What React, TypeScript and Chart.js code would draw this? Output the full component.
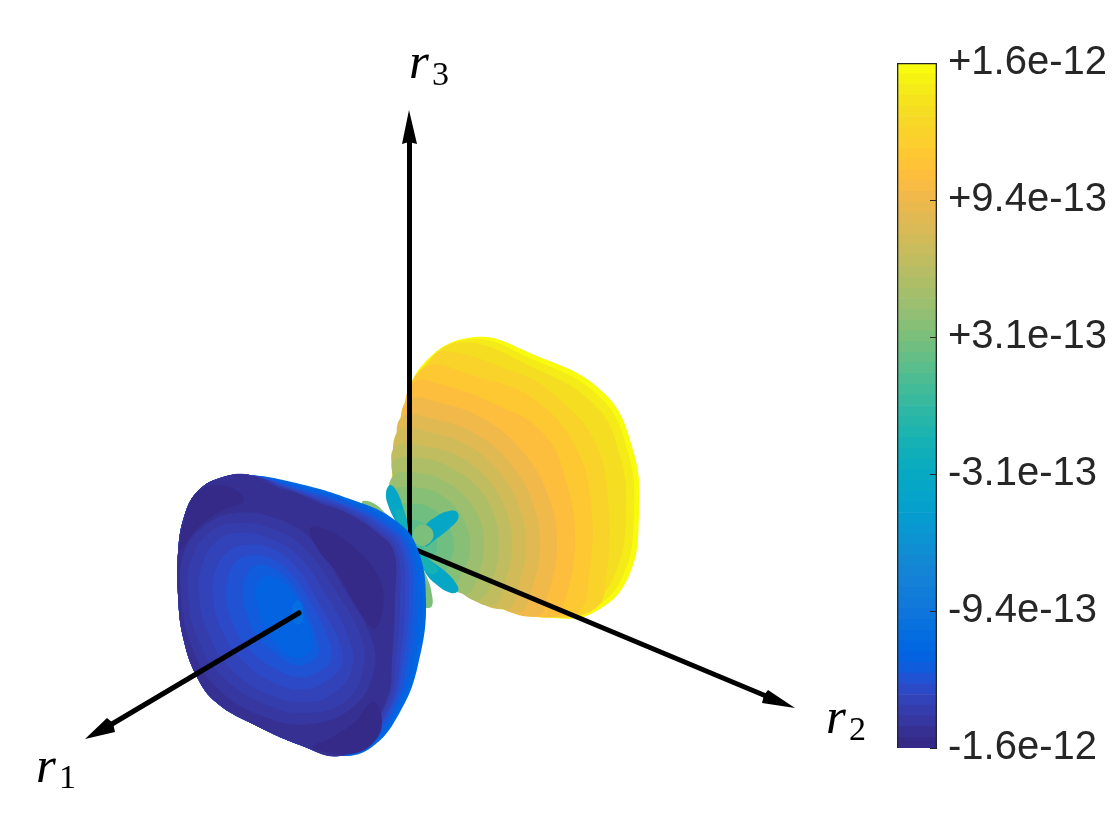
import React, { useEffect, useRef } from "react";
import { Chart, registerables } from "chart.js";

Chart.register(...registerables);

type P = [number, number];

// MATLAB parula, read against the colour bar, bottom band first
const parula: [number, number, number][] = [
  [0.2081,0.1663,0.5292],[0.2116,0.1898,0.5777],[0.2123,0.2138,0.627],[0.2081,0.2386,0.6771],
  [0.1959,0.2645,0.7279],[0.1707,0.2919,0.7792],[0.1253,0.3242,0.8303],[0.0591,0.3598,0.8683],
  [0.0117,0.3875,0.882],[0.006,0.4086,0.8828],[0.0165,0.4266,0.8786],[0.0329,0.443,0.872],
  [0.0498,0.4586,0.8641],[0.0629,0.4737,0.8554],[0.0723,0.4887,0.8467],[0.0779,0.504,0.8384],
  [0.0793,0.52,0.8312],[0.0749,0.5375,0.8263],[0.0641,0.557,0.824],[0.0488,0.5772,0.8228],
  [0.0343,0.5966,0.8199],[0.0265,0.6137,0.8135],[0.0239,0.6287,0.8038],[0.0231,0.6418,0.7913],
  [0.0228,0.6535,0.7768],[0.0267,0.6642,0.7607],[0.0384,0.6743,0.7436],[0.059,0.6838,0.7254],
  [0.0843,0.6928,0.7062],[0.1133,0.7015,0.6859],[0.1453,0.7098,0.6646],[0.1801,0.7177,0.6424],
  [0.2178,0.725,0.6193],[0.2586,0.7317,0.5954],[0.3022,0.7376,0.5712],[0.3482,0.7424,0.5473],
  [0.3953,0.7459,0.5244],[0.442,0.7481,0.5033],[0.4871,0.7491,0.484],[0.53,0.7491,0.4661],
  [0.5709,0.7485,0.4494],[0.6099,0.7473,0.4337],[0.6473,0.7456,0.4188],[0.6834,0.7435,0.4044],
  [0.7184,0.7411,0.3905],[0.7525,0.7384,0.3768],[0.7858,0.7356,0.3633],[0.8185,0.7327,0.3498],
  [0.8507,0.7299,0.336],[0.8824,0.7274,0.3217],[0.9139,0.7258,0.3063],[0.945,0.7261,0.2886],
  [0.9739,0.7314,0.2666],[0.9938,0.7455,0.2403],[0.999,0.7653,0.2164],[0.9955,0.7861,0.1967],
  [0.988,0.8066,0.1794],[0.9789,0.8271,0.1633],[0.9697,0.8481,0.1475],[0.9626,0.8705,0.1309],
  [0.9589,0.8949,0.1132],[0.9598,0.9218,0.0948],[0.9661,0.9514,0.0755],[0.9763,0.9831,0.0538],
];
const rgb = (i: number) => {
  const c = parula[i];
  return `rgb(${Math.round(c[0] * 255)},${Math.round(c[1] * 255)},${Math.round(c[2] * 255)})`;
};

// Colour bar
const cbTicks = [-1.57e-12, -9.42e-13, -3.14e-13, 3.14e-13, 9.42e-13, 1.57e-12];
const cbLabels = ["-1.6e-12", "-9.4e-13", "-3.1e-13", "+3.1e-13", "+9.4e-13", "+1.6e-12"];

// Yellow lobe: [parula index, contour], outermost first
const yellowContours: [number, P[]][] = [
  [63, [[475,337],[530,353],[603,392],[633,450],[639,515],[628,578],[593,613],[555,618],[497,607],[423,563],[392,510],[392,475],[402,413],[425,362]]],
  [61, [[472,339],[530,358],[600,397],[628,452],[634,515],[623,576],[590,611],[555,618],[497,606],[424,562],[393,510],[393,475],[403,413],[426,363]]],
  [59, [[463,342],[530,366],[595,405],[620,456],[626,515],[616,572],[587,610],[555,617],[497,606],[424,562],[393,510],[393,475],[403,413],[426,364]]],
  [57, [[444,351],[515,372],[546,388],[594,440],[609,510],[606,579],[596,608],[555,617],[497,606],[424,562],[393,510],[393,475],[403,413],[427,366]]],
  [55, [[425,367],[474,376],[534,399],[577,450],[592,513],[589,576],[580,611],[555,617],[497,606],[424,562],[393,510],[393,475],[403,413]]],
  [53, [[414,382],[440,384],[495,404],[544,434],[568,488],[575,545],[565,601],[555,617],[497,606],[424,562],[393,510],[393,475],[403,413]]],
  [51, [[408,400],[437,402],[484,419],[523,452],[548,495],[557,545],[548,595],[538,616],[497,606],[424,562],[393,510],[393,475],[399,430]]],
  [49, [[402,417],[434,419],[476,434],[510,463],[532,501],[540,545],[532,589],[521,612],[497,606],[424,562],[393,510],[393,475],[396,447]]],
  [47, [[399,430],[432,433],[469,446],[499,472],[519,506],[526,545],[519,584],[507,609],[460,592],[424,562],[393,510],[393,475]]],
  [45, [[395,447],[429,447],[462,458],[489,481],[506,511],[512,545],[506,579],[494,605],[460,592],[424,562],[393,510],[393,480]]],
  [43, [[394,460],[427,459],[455,470],[479,489],[494,515],[499,545],[494,575],[480,600],[460,592],[424,562],[393,510],[393,480]]],
  [41, [[393,476],[425,474],[448,483],[467,499],[480,520],[484,545],[480,570],[465,594],[424,562],[393,510]]],
  [39, [[393,490],[422,488],[441,495],[456,508],[466,525],[470,545],[466,565],[451,586],[424,562],[393,510]]],
  [37, [[393,507],[419,504],[433,509],[444,518],[451,531],[454,545],[451,559],[440,577],[424,562],[404,530]]],
  [35, [[398,520],[412,520],[424,523],[434,533],[437,545],[434,557],[426,566],[412,545]]],
  [33, [[405,535],[412,533],[421,536],[424,545],[421,553],[414,557],[408,552]]],
];

// Small petals between the lobes
const greenPetalUpper: P[] = [[362,502],[373,503],[387,515],[395,526],[385,530],[370,515]];
const greenPetalLower: P[] = [[422,570],[428,580],[432,595],[432,606],[427,608],[420,606],[415,590]];
const tealPetalUpper: P[] = [[390,485],[396,490],[403,507],[408,530],[405,535],[396,522],[388,505],[386,493]];
const tealPetalUpperBase: P[] = [[396,510],[403,510],[408,532],[404,534],[398,523]];
const tealPetalRight: P[] = [[425,527],[437,516],[449,511],[457,512],[458,519],[450,528],[436,539],[425,546]];
const tealPetalLower: P[] = [[415,548],[427,558],[447,573],[457,585],[458,591],[451,593],[437,585],[425,572]];
const tealPetalLowerBase: P[] = [[417,551],[429,560],[438,570],[431,574],[421,564]];
const centerPetal: P[] = [[420,525],[428,526],[433,532],[432,540],[424,546],[417,544],[413,537],[415,529]];

// Blue lobe: rim bands over its upper right side, all sharing the lower left edge
const blueEdge: P[] = [[340,756],[300,745],[255,725],[217,703],[197,677],[183,637],[178,595],[178,553],[184,517],[197,492],[220,478],[250,475]];
const blueRim0: P[] = [[300,484],[350,499],[392,518],[416,545],[426,600],[418,665],[400,712],[372,747]];
const blueRim1: P[] = [[300,486],[349,501],[390,520],[413,546],[422,600],[414,664],[398,710],[371,745]];
const blueRim2: P[] = [[299,487],[348,502],[388,522],[410,547],[417,600],[411,664],[396,708],[370,744]];
const blueRim3: P[] = [[299,489],[347,504],[387,525],[408,548],[413,600],[407,663],[395,706],[369,742]];
const blueRim4: P[] = [[298,490],[346,506],[385,527],[404,549],[409,600],[403,662],[393,704],[368,740]];
const blueRim5: P[] = [[298,492],[345,507],[383,529],[401,550],[405,600],[400,661],[392,702],[367,739]];
const blueRim6: P[] = [[297,493],[344,509],[381,532],[397,551],[400,600],[396,660],[390,699],[366,737]];
const blueRim7: P[] = [[297,495],[343,511],[379,534],[394,552],[395,600],[392,660],[388,697],[365,735]];
const bluePatchTop: P[] = [[180,550],[186,515],[197,492],[220,485],[240,493],[243,502],[227,508],[203,523],[188,540]];
const bluePatchRight: P[] = [[310,528],[327,530],[357,550],[380,580],[383,607],[375,628],[363,617],[337,573],[317,548]];
const bluePatchLow: P[] = [[373,702],[382,720],[374,742],[350,754],[313,747],[333,737],[357,720]];
const blueRingOuter: P[] = [[235,513],[275,518],[312,540],[345,590],[372,640],[373,675],[352,708],[310,724],[262,716],[215,686],[190,642],[181,596],[184,553],[204,526]];
const blueRings: [number, P[]][] = [
  [3, [[237,523],[270,528],[303,547],[337,593],[362,640],[363,670],[347,700],[310,713],[267,705],[223,677],[197,637],[188,593],[192,557],[210,532]]],
  [4, [[238,533],[268,538],[298,556],[328,598],[350,642],[352,668],[338,690],[310,702],[270,695],[232,670],[208,633],[199,593],[203,563],[217,541]]],
  [5, [[245,545],[270,548],[295,566],[320,605],[340,645],[341,665],[328,680],[305,689],[275,683],[242,660],[221,628],[213,595],[216,570],[228,552]]],
  [6, [[248,556],[270,558],[292,575],[315,610],[330,645],[330,662],[318,672],[300,677],[278,670],[250,650],[233,623],[226,595],[229,575],[236,562]]],
  [7, [[255,566],[272,568],[292,585],[308,615],[318,645],[318,655],[308,663],[295,665],[278,655],[258,637],[247,615],[243,595],[245,580]]],
  [8, [[262,578],[275,578],[292,592],[305,618],[312,640],[307,655],[292,657],[278,646],[265,628],[258,607],[256,590]]],
  [10, [[297,600],[301,603],[303,612],[303,620],[298,625],[293,620],[292,610],[294,603]]],
];

// Axes and their arrowheads
const axis1Line: P[] = [[299,613],[112,724]];
const axis2Line: P[] = [[414,549],[766,696]];
const axis3Line: P[] = [[409.5,535],[409.5,142]];
const arrow1: P[] = [[85,739],[107,718],[113,723],[115,732]];
const arrow2: P[] = [[795,708],[762,703],[764,695],[768,690]];
const arrow3: P[] = [[409,110],[402,144],[409,142],[417,144]];

const axisLabels: { name: string; sub: string; x: number; y: number; subX: number; subY: number }[] = [
  { name: "r", sub: "1", x: 36, y: 782, subX: 59, subY: 788 },
  { name: "r", sub: "2", x: 826, y: 733, subX: 849, subY: 740 },
  { name: "r", sub: "3", x: 409, y: 78, subX: 432, subY: 85 },
];

const toXY = (p: P[]) => p.map(([x, y]) => ({ x, y }));
// The loop overlaps itself by one segment at each end so its curve has no cusp where it closes
const looped = (p: P[]) => toXY([p[p.length - 1], ...p, p[0], p[1]]);

const labelPlugin = {
  id: "axisLabels",
  afterDatasetsDraw(chart: any) {
    const { ctx, scales } = chart;
    ctx.save();
    ctx.fillStyle = "#000";
    ctx.textAlign = "left";
    ctx.textBaseline = "alphabetic";
    for (const l of axisLabels) {
      ctx.font = 'italic 51px "Liberation Serif"';
      ctx.fillText(l.name, scales.x.getPixelForValue(l.x), scales.y.getPixelForValue(l.y));
      ctx.font = '34px "Liberation Serif"';
      ctx.fillText(l.sub, scales.x.getPixelForValue(l.subX), scales.y.getPixelForValue(l.subY));
    }
    ctx.restore();
  },
};

export default function App() {
  const surfaceRef = useRef<HTMLCanvasElement>(null);
  const barRef = useRef<HTMLCanvasElement>(null);

  useEffect(() => {
    const shape = (p: P[], idx: number, tension = 0.42) => ({
      data: looped(p),
      showLine: true,
      fill: "shape",
      backgroundColor: rgb(idx),
      borderWidth: 0,
      borderColor: "transparent",
      tension,
      pointRadius: 0,
    });
    const arrowHead = (p: P[]) => ({
      data: toXY(p),
      showLine: true,
      fill: "shape",
      backgroundColor: "#000",
      borderWidth: 0,
      tension: 0,
      pointRadius: 0,
    });
    const axisLine = (p: P[]) => ({
      data: toXY(p),
      showLine: true,
      fill: false,
      borderColor: "#000",
      borderWidth: 5,
      borderCapStyle: "round",
      tension: 0,
      pointRadius: 0,
    });

    const layers: any[] = [
      ...yellowContours.map(([i, p]) => shape(p, i)),
      axisLine(axis3Line),
      arrowHead(arrow3),
      shape(greenPetalUpper, 39),
      shape(greenPetalLower, 38),
      shape(tealPetalUpper, 24),
      shape(tealPetalUpperBase, 27),
      shape(tealPetalRight, 24),
      shape(tealPetalLower, 24),
      shape(tealPetalLowerBase, 28),
      shape(centerPetal, 38),
      axisLine(axis2Line),
      arrowHead(arrow2),
      shape([...blueRim0, ...blueEdge], 9),
      shape([...blueRim1, ...blueEdge], 8),
      shape([...blueRim2, ...blueEdge], 7),
      shape([...blueRim3, ...blueEdge], 6),
      shape([...blueRim4, ...blueEdge], 5),
      shape([...blueRim5, ...blueEdge], 4),
      shape([...blueRim6, ...blueEdge], 3),
      shape([...blueRim7, ...blueEdge], 1),
      shape(blueRingOuter, 2),
      shape(bluePatchLow, 0),
      shape(bluePatchTop, 0),
      shape(bluePatchRight, 0),
      ...blueRings.map(([i, p]) => shape(p, i, 0.45)),
      axisLine(axis1Line),
      arrowHead(arrow1),
    ];
    layers.forEach((d, i) => (d.order = layers.length - i));

    const surface = new Chart(surfaceRef.current!, {
      type: "scatter",
      data: { datasets: layers },
      options: {
        animation: false,
        responsive: false,
        layout: { padding: 0 },
        plugins: { legend: { display: false }, tooltip: { enabled: false } },
        scales: {
          x: { type: "linear", min: 0, max: 1120, display: false },
          y: { type: "linear", min: 0, max: 840, reverse: true, display: false },
        },
      },
      plugins: [labelPlugin],
    } as any);

    const lo = cbTicks[0];
    const hi = cbTicks[cbTicks.length - 1];
    const step = (hi - lo) / parula.length;
    const bands: any[] = parula.map((_, i) => ({
      data: [[lo + i * step, lo + (i + 1) * step]],
      backgroundColor: rgb(i),
      borderWidth: 0,
      barPercentage: 1,
      categoryPercentage: 1,
      grouped: false,
    }));
    const frame = {
      data: [[lo, hi]],
      backgroundColor: "transparent",
      borderColor: "#262626",
      borderWidth: 1,
      barPercentage: 1,
      categoryPercentage: 1,
      grouped: false,
      order: -1,
    };

    const bar = new Chart(barRef.current!, {
      type: "bar",
      data: { labels: ["value"], datasets: [...bands, frame] },
      options: {
        animation: false,
        responsive: false,
        layout: { padding: { left: 17, top: 63, bottom: 92, right: 0 } },
        plugins: { legend: { display: false }, tooltip: { enabled: false } },
        scales: {
          x: { display: false },
          y: {
            position: "right",
            min: lo,
            max: hi,
            afterBuildTicks: (s: any) => {
              s.ticks = cbTicks.map((value) => ({ value }));
            },
            afterFit: (s: any) => {
              s.width = 183;
            },
            grid: {
              drawOnChartArea: false,
              drawTicks: true,
              tickLength: -7,
              color: "#262626",
              tickWidth: 1,
              z: 2,
            },
            border: { display: false },
            ticks: {
              autoSkip: false,
              maxRotation: 0,
              padding: 18,
              color: "#262626",
              font: { family: '"Liberation Sans"', size: 40 },
              callback: (v: any) => {
                const i = cbTicks.indexOf(v);
                return i >= 0 ? cbLabels[i] : "";
              },
            },
          },
        },
      },
    } as any);

    return () => {
      surface.destroy();
      bar.destroy();
    };
  }, []);

  return (
    <div style={{ position: "fixed", left: 0, top: 0, width: 1120, height: 840, background: "#fff" }}>
      <canvas ref={surfaceRef} width={1120} height={840} style={{ position: "absolute", left: 0, top: 0 }} />
      <canvas ref={barRef} width={240} height={840} style={{ position: "absolute", left: 880, top: 0 }} />
    </div>
  );
}
